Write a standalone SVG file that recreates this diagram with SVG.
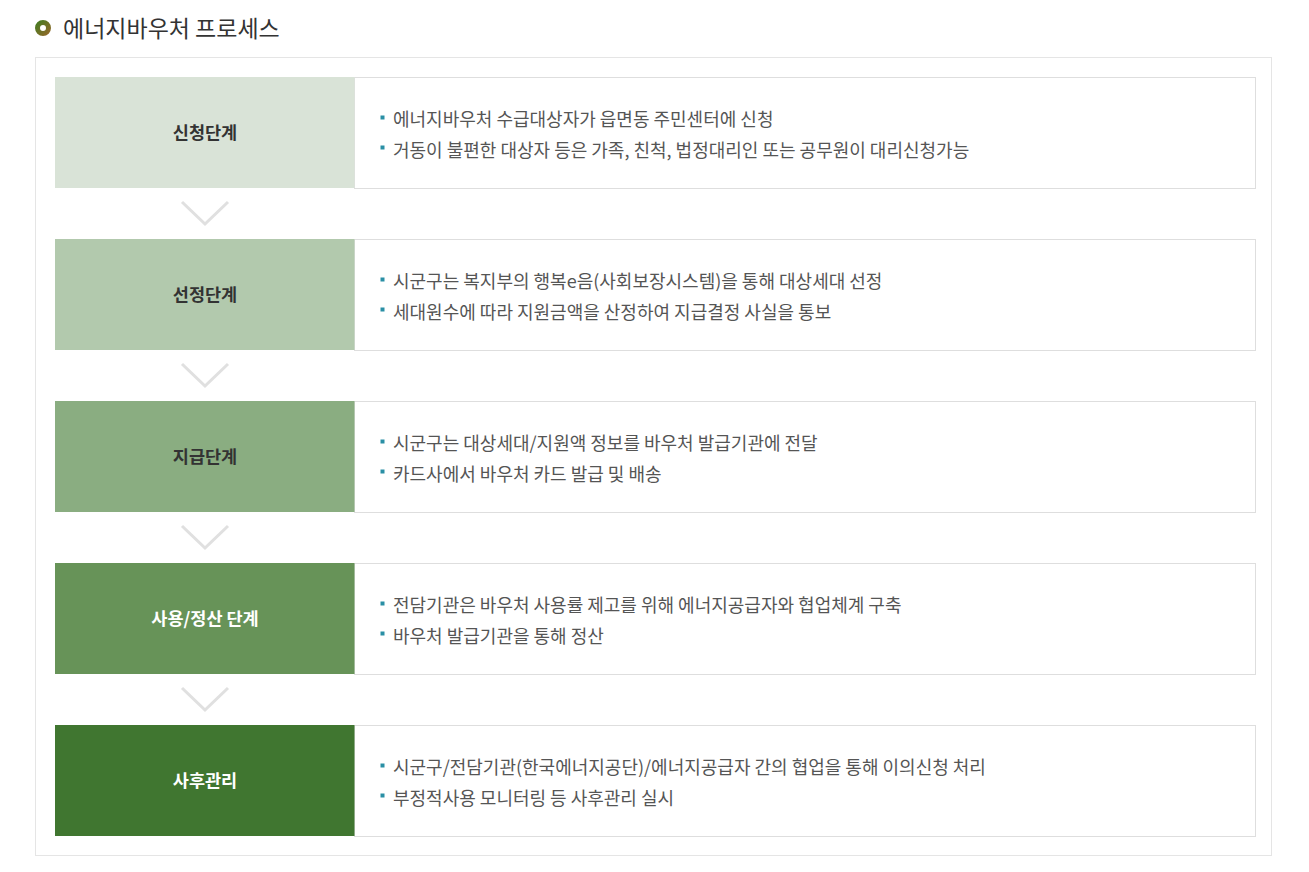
<svg xmlns="http://www.w3.org/2000/svg" width="1309" height="872" viewBox="0 0 1309 872">
<defs>
<linearGradient id="ring" x1="0" y1="0" x2="1" y2="1">
<stop offset="0" stop-color="#4a7a22"/>
<stop offset="1" stop-color="#8c6a28"/>
</linearGradient>
</defs>
<style>
.title{font-family:"Noto Sans CJK KR","Noto Sans",sans-serif;font-size:23px;fill:#333}
.lbl{font-family:"Noto Sans CJK KR","Noto Sans",sans-serif;font-size:17.5px;font-weight:bold;text-anchor:middle}
.dark{fill:#333}
.light{fill:#fff}
.desc{font-family:"Noto Sans CJK KR","Noto Sans",sans-serif;font-size:18px;fill:#555}
.box{fill:#fff;stroke:#dedede;stroke-width:1}
.bul{fill:#2a8fa5}
.chev{fill:none;stroke:#e0e0e0;stroke-width:3}
</style>
<rect width="1309" height="872" fill="#fff"/>
<g id="heading">
<circle cx="43" cy="28" r="5.5" fill="#fff" stroke="url(#ring)" stroke-width="5"/>
<text class="title" x="63" y="36.5">에너지바우처 프로세스</text>
</g>
<rect x="35.5" y="57.5" width="1236" height="798" fill="#fff" stroke="#e5e5e5" stroke-width="1"/>
<g id="connectors">
<polyline class="chev" points="182,202 205,224 228,202"/>
<polyline class="chev" points="182,364 205,386 228,364"/>
<polyline class="chev" points="182,526 205,548 228,526"/>
<polyline class="chev" points="182,688 205,710 228,688"/>
</g>
<g id="step1">
<rect class="box" x="354.5" y="77.5" width="901" height="111"/>
<rect x="55" y="77" width="299.5" height="111" fill="#d9e3d7"/>
<text class="lbl dark" x="205" y="138.5">신청단계</text>
<rect class="bul" x="380.5" y="115.5" width="4" height="4"/>
<text class="desc" x="393" y="125.5">에너지바우처 수급대상자가 읍면동 주민센터에 신청</text>
<rect class="bul" x="380.5" y="145.5" width="4" height="4"/>
<text class="desc" x="393" y="156.5">거동이 불편한 대상자 등은 가족, 친척, 법정대리인 또는 공무원이 대리신청가능</text>
</g>
<g id="step2">
<rect class="box" x="354.5" y="239.5" width="901" height="111"/>
<rect x="55" y="239" width="299.5" height="111" fill="#b2c9ad"/>
<text class="lbl dark" x="205" y="300.5">선정단계</text>
<rect class="bul" x="380.5" y="277.5" width="4" height="4"/>
<text class="desc" x="393" y="287.5">시군구는 복지부의 행복e음(사회보장시스템)을 통해 대상세대 선정</text>
<rect class="bul" x="380.5" y="307.5" width="4" height="4"/>
<text class="desc" x="393" y="318.5">세대원수에 따라 지원금액을 산정하여 지급결정 사실을 통보</text>
</g>
<g id="step3">
<rect class="box" x="354.5" y="401.5" width="901" height="111"/>
<rect x="55" y="401" width="299.5" height="111" fill="#8aad81"/>
<text class="lbl dark" x="205" y="462.5">지급단계</text>
<rect class="bul" x="380.5" y="439.5" width="4" height="4"/>
<text class="desc" x="393" y="449.5">시군구는 대상세대/지원액 정보를 바우처 발급기관에 전달</text>
<rect class="bul" x="380.5" y="469.5" width="4" height="4"/>
<text class="desc" x="393" y="480.5">카드사에서 바우처 카드 발급 및 배송</text>
</g>
<g id="step4">
<rect class="box" x="354.5" y="563.5" width="901" height="111"/>
<rect x="55" y="563" width="299.5" height="111" fill="#679358"/>
<text class="lbl light" x="205" y="624.5">사용/정산 단계</text>
<rect class="bul" x="380.5" y="601.5" width="4" height="4"/>
<text class="desc" x="393" y="611.5">전담기관은 바우처 사용률 제고를 위해 에너지공급자와 협업체계 구축</text>
<rect class="bul" x="380.5" y="631.5" width="4" height="4"/>
<text class="desc" x="393" y="642.5">바우처 발급기관을 통해 정산</text>
</g>
<g id="step5">
<rect class="box" x="354.5" y="725.5" width="901" height="111"/>
<rect x="55" y="725" width="299.5" height="111" fill="#407630"/>
<text class="lbl light" x="205" y="786.5">사후관리</text>
<rect class="bul" x="380.5" y="763.5" width="4" height="4"/>
<text class="desc" x="393" y="773.5">시군구/전담기관(한국에너지공단)/에너지공급자 간의 협업을 통해 이의신청 처리</text>
<rect class="bul" x="380.5" y="793.5" width="4" height="4"/>
<text class="desc" x="393" y="804.5">부정적사용 모니터링 등 사후관리 실시</text>
</g>
</svg>
